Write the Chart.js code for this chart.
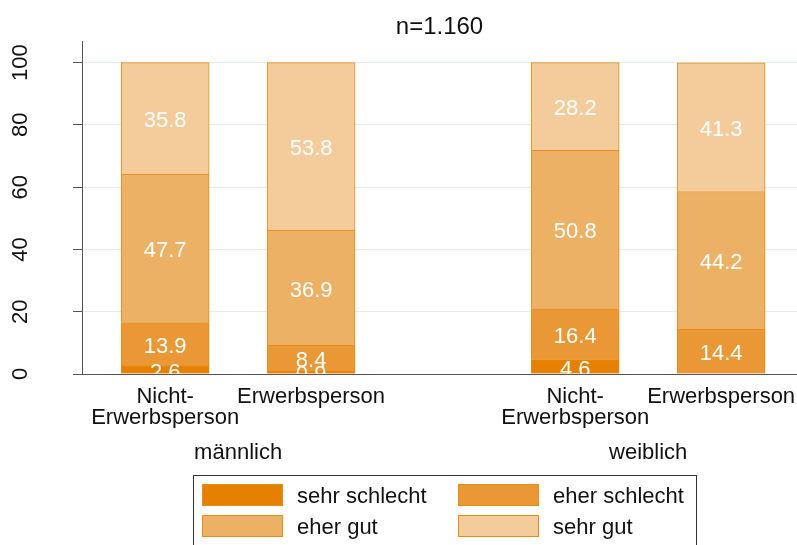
<!DOCTYPE html>
<html lang="de">
<head>
<meta charset="utf-8">
<title>Gesundheitszustand nach Geschlecht und Erwerbsstatus</title>
<script src="https://cdn.jsdelivr.net/npm/chart.js@4.4.1/dist/chart.umd.min.js"></script>
<style>
  html, body { margin: 0; padding: 0; background: #fff; }
  #wrap { width: 797px; height: 545px; }
</style>
</head>
<body>
<div id="wrap"><canvas id="grafik" width="797" height="545"></canvas></div>
<script>
// Daten
const kategorien = [['Nicht-', 'Erwerbsperson'], 'Erwerbsperson', ['Nicht-', 'Erwerbsperson'], 'Erwerbsperson'];
const gruppen = ['männlich', 'weiblich'];
const serien = ['sehr schlecht', 'eher schlecht', 'eher gut', 'sehr gut'];
const sehrSchlecht = [2.6, 0.9, 4.6, 0];
const eherSchlecht = [13.9, 8.4, 16.4, 14.4];
const eherGut = [47.7, 36.9, 50.8, 44.2];
const sehrGut = [35.8, 53.8, 28.2, 41.3];
const yTicks = [0, 20, 40, 60, 80, 100];
const titel = 'n=1.160';

const farben = ['#E58000', '#EA9835', '#EDB165', '#F4CB9A'];
const randFarbe = '#EA8A17';
const textFarbe = '#111';
const schrift = '"Liberation Sans", Arial, sans-serif';

Chart.defaults.font.family = schrift;

// x-Position der Balken, mit Lücke zwischen männlich und weiblich
const gruppenAbstand = 0.81;
const balkenX = i => 1 + i + (i >= 2 ? gruppenAbstand : 0);
const gruppenX = [(balkenX(0) + balkenX(1)) / 2, (balkenX(2) + balkenX(3)) / 2];
const xMin = 0.43, xMax = 5.33;

// Werte in die Segmente schreiben (abgeschnitten an der Achse wie im Original)
const wertePlugin = {
    id: 'werte',
    afterDatasetsDraw(chart) {
        const { ctx, chartArea } = chart;
        ctx.save();
        ctx.beginPath();
        ctx.rect(chartArea.left, chartArea.top, chartArea.right - chartArea.left, chartArea.bottom - chartArea.top);
        ctx.clip();
        ctx.fillStyle = '#fff';
        ctx.font = '22px ' + schrift;
        ctx.textAlign = 'center';
        ctx.textBaseline = 'alphabetic';
        chart.data.datasets.forEach((ds, d) => {
            chart.getDatasetMeta(d).data.forEach((bar, i) => {
                const v = ds.data[i].y;
                if (!v) return;
                ctx.fillText(v.toFixed(1), bar.x, (bar.y + bar.base) / 2 + 9);
            });
        });
        ctx.restore();
    }
};

// gedrehte y-Beschriftung und Legende im Kasten
const achsenPlugin = {
    id: 'achsen',
    afterDraw(chart) {
        const { ctx } = chart;
        const y = chart.scales.y;
        ctx.save();
        ctx.fillStyle = textFarbe;
        ctx.font = '22px ' + schrift;
        ctx.textAlign = 'center';
        ctx.textBaseline = 'alphabetic';
        yTicks.forEach(v => {
            ctx.save();
            ctx.translate(y.right - 55, y.getPixelForValue(v));
            ctx.rotate(-Math.PI / 2);
            ctx.fillText(String(v), 0, 0);
            ctx.restore();
        });

        // Legende
        const box = { left: 193, top: 475, right: 696 };
        ctx.strokeStyle = '#333';
        ctx.lineWidth = 1;
        ctx.strokeRect(box.left + 0.5, box.top + 0.5, box.right - box.left, 100);
        ctx.textAlign = 'left';
        serien.forEach((name, s) => {
            const sx = box.left + 9 + (s % 2) * 256;
            const sy = box.top + 9 + Math.floor(s / 2) * 31;
            ctx.fillStyle = farben[s];
            ctx.fillRect(sx, sy, 81, 22);
            ctx.strokeStyle = randFarbe;
            ctx.strokeRect(sx + 0.5, sy + 0.5, 80, 21);
            ctx.fillStyle = textFarbe;
            ctx.fillText(name, sx + 95, sy + 19);
        });
        ctx.restore();
    }
};

new Chart(document.getElementById('grafik'), {
    type: 'bar',
    data: {
        datasets: [sehrSchlecht, eherSchlecht, eherGut, sehrGut].map((werte, s) => ({
            label: serien[s],
            data: werte.map((v, i) => ({ x: balkenX(i), y: v })),
            xAxisID: 'x',
            yAxisID: 'y',
            backgroundColor: farben[s],
            borderColor: randFarbe,
            borderWidth: 1,
            barThickness: 88
        }))
    },
    options: {
        responsive: false,
        animation: false,
        devicePixelRatio: 1,
        layout: { padding: { top: 0, left: 0, right: 0, bottom: 81 } },
        plugins: {
            legend: { display: false },
            tooltip: { enabled: false },
            title: {
                display: true,
                text: titel,
                fullSize: false,
                color: textFarbe,
                font: { size: 24, weight: 'normal', lineHeight: 1.2 },
                padding: { top: 12.7, bottom: 0.2 }
            }
        },
        scales: {
            x: {
                type: 'linear',
                stacked: true,
                min: xMin,
                max: xMax,
                offset: false,
                grid: { display: false, drawTicks: false, offset: false },
                border: { display: true, color: '#555', width: 1 },
                afterBuildTicks: s => { s.ticks = kategorien.map((k, i) => ({ value: balkenX(i) })); },
                ticks: {
                    autoSkip: false, maxRotation: 0, minRotation: 0, padding: 12,
                    color: textFarbe, font: { size: 22, lineHeight: '21px' },
                    callback: (v, i) => kategorien[i]
                },
                afterFit: s => { s.height = 54; s.paddingLeft = 0; s.paddingRight = 0; }
            },
            gruppe: {
                type: 'linear',
                position: 'bottom',
                weight: 1,
                min: xMin,
                max: xMax,
                offset: false,
                grid: { display: false, drawTicks: false },
                border: { display: false },
                afterBuildTicks: s => { s.ticks = gruppenX.map(v => ({ value: v })); },
                ticks: {
                    autoSkip: false, maxRotation: 0, minRotation: 0, padding: 14,
                    color: textFarbe, font: { size: 22, lineHeight: '21px' },
                    callback: (v, i) => gruppen[i]
                },
                afterFit: s => { s.height = 36; s.paddingLeft = 0; s.paddingRight = 0; }
            },
            y: {
                stacked: true,
                min: 0,
                max: 106.7,
                afterBuildTicks: s => { s.ticks = yTicks.map(v => ({ value: v })); },
                ticks: { display: false },
                grid: { color: '#E5ECEF', lineWidth: 1, tickLength: 9, tickColor: '#555' },
                border: { display: true, color: '#555', width: 1 },
                afterFit: s => { s.width = 82; }
            }
        }
    },
    plugins: [wertePlugin, achsenPlugin]
});
</script>
</body>
</html>
